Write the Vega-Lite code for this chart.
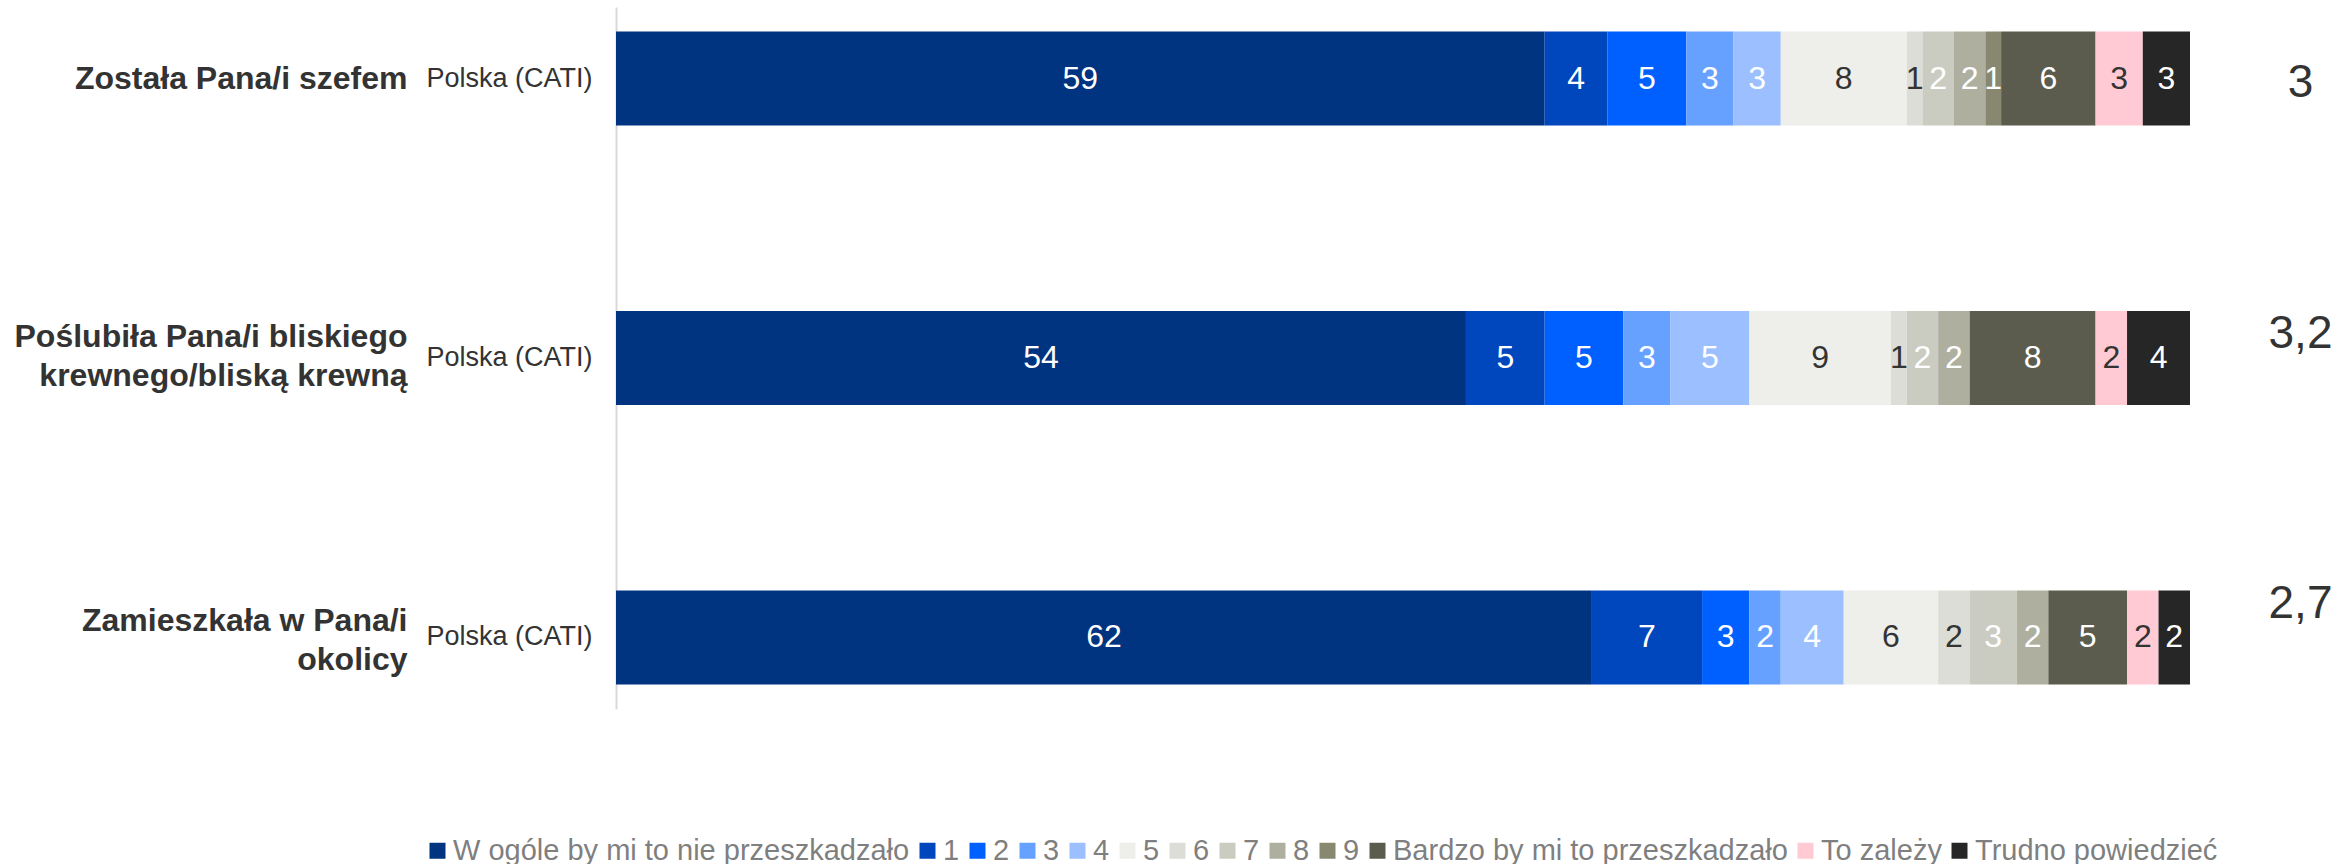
{
  "$schema": "https://vega.github.io/schema/vega-lite/v6.json",
  "width": 1574,
  "height": 702,
  "autosize": "none",
  "padding": {"left": 616, "top": 7, "right": 149, "bottom": 155},
  "background": "white",
  "config": {"view": {"stroke": null}, "font": "Liberation Sans"},
  "data": {
    "values": [
      {"q": "Została Pana/i szefem", "cat": "W ogóle by mi to nie przeszkadzało", "k": 0, "v": 59},
      {"q": "Została Pana/i szefem", "cat": "1", "k": 1, "v": 4},
      {"q": "Została Pana/i szefem", "cat": "2", "k": 2, "v": 5},
      {"q": "Została Pana/i szefem", "cat": "3", "k": 3, "v": 3},
      {"q": "Została Pana/i szefem", "cat": "4", "k": 4, "v": 3},
      {"q": "Została Pana/i szefem", "cat": "5", "k": 5, "v": 8},
      {"q": "Została Pana/i szefem", "cat": "6", "k": 6, "v": 1},
      {"q": "Została Pana/i szefem", "cat": "7", "k": 7, "v": 2},
      {"q": "Została Pana/i szefem", "cat": "8", "k": 8, "v": 2},
      {"q": "Została Pana/i szefem", "cat": "9", "k": 9, "v": 1},
      {"q": "Została Pana/i szefem", "cat": "Bardzo by mi to przeszkadzało", "k": 10, "v": 6},
      {"q": "Została Pana/i szefem", "cat": "To zależy", "k": 11, "v": 3},
      {"q": "Została Pana/i szefem", "cat": "Trudno powiedzieć", "k": 12, "v": 3},
      {"q": "Poślubiła Pana/i bliskiego krewnego/bliską krewną", "cat": "W ogóle by mi to nie przeszkadzało", "k": 0, "v": 54},
      {"q": "Poślubiła Pana/i bliskiego krewnego/bliską krewną", "cat": "1", "k": 1, "v": 5},
      {"q": "Poślubiła Pana/i bliskiego krewnego/bliską krewną", "cat": "2", "k": 2, "v": 5},
      {"q": "Poślubiła Pana/i bliskiego krewnego/bliską krewną", "cat": "3", "k": 3, "v": 3},
      {"q": "Poślubiła Pana/i bliskiego krewnego/bliską krewną", "cat": "4", "k": 4, "v": 5},
      {"q": "Poślubiła Pana/i bliskiego krewnego/bliską krewną", "cat": "5", "k": 5, "v": 9},
      {"q": "Poślubiła Pana/i bliskiego krewnego/bliską krewną", "cat": "6", "k": 6, "v": 1},
      {"q": "Poślubiła Pana/i bliskiego krewnego/bliską krewną", "cat": "7", "k": 7, "v": 2},
      {"q": "Poślubiła Pana/i bliskiego krewnego/bliską krewną", "cat": "8", "k": 8, "v": 2},
      {"q": "Poślubiła Pana/i bliskiego krewnego/bliską krewną", "cat": "Bardzo by mi to przeszkadzało", "k": 10, "v": 8},
      {"q": "Poślubiła Pana/i bliskiego krewnego/bliską krewną", "cat": "To zależy", "k": 11, "v": 2},
      {"q": "Poślubiła Pana/i bliskiego krewnego/bliską krewną", "cat": "Trudno powiedzieć", "k": 12, "v": 4},
      {"q": "Zamieszkała w Pana/i okolicy", "cat": "W ogóle by mi to nie przeszkadzało", "k": 0, "v": 62},
      {"q": "Zamieszkała w Pana/i okolicy", "cat": "1", "k": 1, "v": 7},
      {"q": "Zamieszkała w Pana/i okolicy", "cat": "2", "k": 2, "v": 3},
      {"q": "Zamieszkała w Pana/i okolicy", "cat": "3", "k": 3, "v": 2},
      {"q": "Zamieszkała w Pana/i okolicy", "cat": "4", "k": 4, "v": 4},
      {"q": "Zamieszkała w Pana/i okolicy", "cat": "5", "k": 5, "v": 6},
      {"q": "Zamieszkała w Pana/i okolicy", "cat": "6", "k": 6, "v": 2},
      {"q": "Zamieszkała w Pana/i okolicy", "cat": "7", "k": 7, "v": 3},
      {"q": "Zamieszkała w Pana/i okolicy", "cat": "8", "k": 8, "v": 2},
      {"q": "Zamieszkała w Pana/i okolicy", "cat": "Bardzo by mi to przeszkadzało", "k": 10, "v": 5},
      {"q": "Zamieszkała w Pana/i okolicy", "cat": "To zależy", "k": 11, "v": 2},
      {"q": "Zamieszkała w Pana/i okolicy", "cat": "Trudno powiedzieć", "k": 12, "v": 2}
    ]
  },
  "layer": [
    {
      "mark": {"type": "bar"},
      "encoding": {
        "y": {
          "field": "q", "type": "nominal",
          "sort": ["Została Pana/i szefem", "Poślubiła Pana/i bliskiego krewnego/bliską krewną", "Zamieszkała w Pana/i okolicy"],
          "scale": {"paddingInner": 0.664, "paddingOuter": 0.088},
          "axis": {
            "orient": "left", "title": null, "labelExpr": "'Polska (CATI)'",
            "labelFont": "Liberation Sans", "labelFontSize": 27, "labelColor": "#333333",
            "labelPadding": 24, "ticks": false, "labelLimit": 0,
            "domainColor": "#D9D9D9", "domainWidth": 2
          }
        },
        "x": {"field": "v", "type": "quantitative", "stack": "zero", "scale": {"domain": [0, 100], "nice": false}, "axis": null},
        "color": {
          "field": "cat", "type": "nominal",
          "scale": {
            "domain": ["W ogóle by mi to nie przeszkadzało", "1", "2", "3", "4", "5", "6", "7", "8", "9", "Bardzo by mi to przeszkadzało", "To zależy", "Trudno powiedzieć"],
            "range": ["#003380", "#0047BE", "#0060FF", "#66A1FF", "#9BBFFF", "#EEEFEA", "#DCDDD6", "#CBCCC1", "#AEAF9F", "#888870", "#5B5C4D", "#FFCAD3", "#262626"]
          },
          "legend": {
            "orient": "none", "legendX": -193, "legendY": 829, "direction": "horizontal", "columns": 13,
            "title": null, "symbolType": "square", "symbolSize": 256, "symbolStrokeWidth": 0,
            "labelFont": "Liberation Sans", "labelFontSize": 29, "labelColor": "#7F7F7F",
            "columnPadding": 3, "labelOffset": 1, "labelLimit": 0
          }
        },
        "order": {"field": "k", "type": "quantitative"}
      }
    },
    {
      "mark": {"type": "text", "color": "#FFFFFF", "font": "Liberation Sans", "fontSize": 32, "baseline": "middle", "align": "center"},
      "encoding": {
        "y": {
          "field": "q", "type": "nominal",
          "sort": ["Została Pana/i szefem", "Poślubiła Pana/i bliskiego krewnego/bliską krewną", "Zamieszkała w Pana/i okolicy"],
          "axis": {
            "orient": "left", "offset": 200, "title": null, "domain": false, "ticks": false,
            "labelPadding": 9, "labelLimit": 0, "labelFont": "Liberation Sans", "labelFontSize": 32,
            "labelFontWeight": "bold", "labelColor": "#333333", "labelLineHeight": 39,
            "labelOffset": {
              "condition": [
                {"test": "datum.value == 'Poślubiła Pana/i bliskiego krewnego/bliską krewną'", "value": -21},
                {"test": "datum.value == 'Zamieszkała w Pana/i okolicy'", "value": -16}
              ],
              "value": 0
            },
            "labelExpr": "datum.value == 'Poślubiła Pana/i bliskiego krewnego/bliską krewną' ? ['Poślubiła Pana/i bliskiego', 'krewnego/bliską krewną'] : datum.value == 'Zamieszkała w Pana/i okolicy' ? ['Zamieszkała w Pana/i', 'okolicy'] : datum.value"
          }
        },
        "x": {"field": "v", "type": "quantitative", "stack": "zero", "bandPosition": 0.5},
        "order": {"field": "k", "type": "quantitative"},
        "text": {"condition": {"test": "indexof(['5', '6', 'To zależy'], datum.cat) < 0", "field": "v", "type": "quantitative"}, "value": ""}
      }
    },
    {
      "mark": {"type": "text", "color": "#333333", "font": "Liberation Sans", "fontSize": 32, "baseline": "middle", "align": "center"},
      "encoding": {
        "y": {
          "field": "q", "type": "nominal",
          "sort": ["Została Pana/i szefem", "Poślubiła Pana/i bliskiego krewnego/bliską krewną", "Zamieszkała w Pana/i okolicy"],
          "axis": {
            "orient": "right", "title": null, "domain": false, "ticks": false,
            "labelPadding": 110, "labelAlign": "center", "labelLimit": 0,
            "labelFont": "Liberation Sans", "labelFontSize": 46, "labelColor": "#333333",
            "labelExpr": "datum.value == 'Została Pana/i szefem' ? '3' : datum.value == 'Zamieszkała w Pana/i okolicy' ? '2,7' : '3,2'",
            "labelOffset": {
              "condition": [
                {"test": "datum.value == 'Poślubiła Pana/i bliskiego krewnego/bliską krewną'", "value": -24},
                {"test": "datum.value == 'Zamieszkała w Pana/i okolicy'", "value": -33}
              ],
              "value": 4
            }
          }
        },
        "x": {"field": "v", "type": "quantitative", "stack": "zero", "bandPosition": 0.5},
        "order": {"field": "k", "type": "quantitative"},
        "text": {"condition": {"test": "indexof(['5', '6', 'To zależy'], datum.cat) >= 0", "field": "v", "type": "quantitative"}, "value": ""}
      }
    }
  ],
  "resolve": {"axis": {"y": "independent"}}
}
